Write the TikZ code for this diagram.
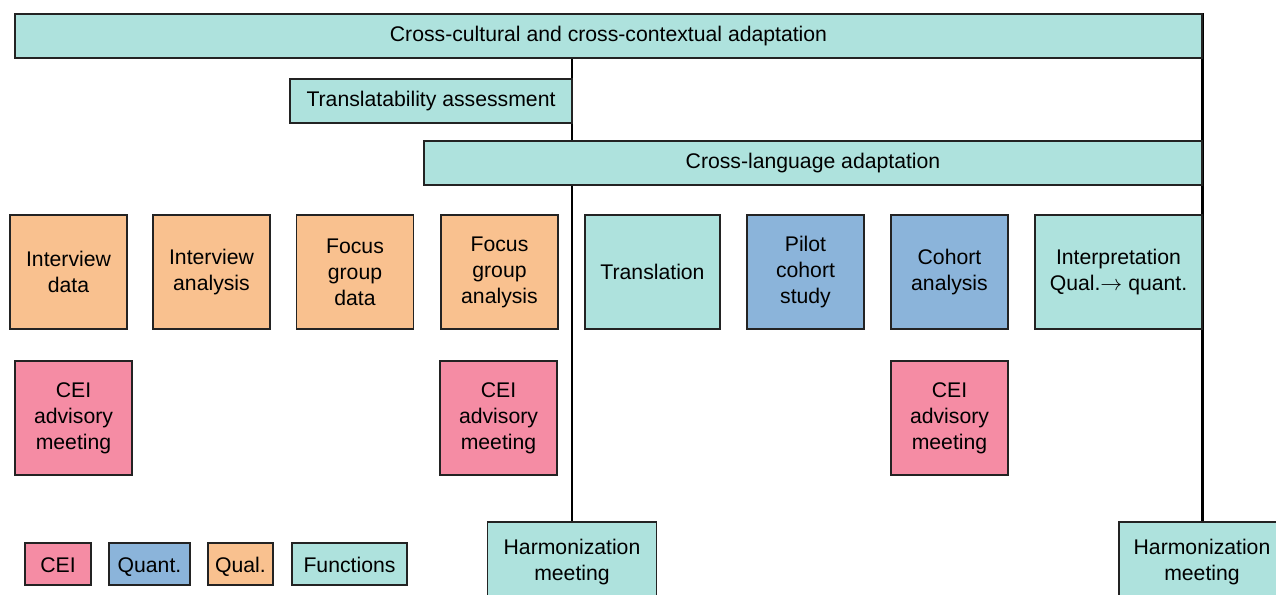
\documentclass[tikz,border=0pt]{standalone}
\usepackage{fontspec}
\setmainfont{Liberation Sans}
\usetikzlibrary{backgrounds}
\definecolor{funcfill}{RGB}{174,226,221}
\definecolor{qualfill}{RGB}{249,193,143}
\definecolor{quantfill}{RGB}{139,180,218}
\definecolor{ceifill}{RGB}{245,140,164}
\definecolor{boxline}{RGB}{35,35,35}
\begin{document}
\begin{tikzpicture}[
    x=0.5pt, y=-0.5pt,
    box/.style={draw=boxline, line width=0.55pt, inner sep=0, align=center,
        font=\fontsize{10.6}{13}\selectfont},
    func/.style={box, fill=funcfill},
    qual/.style={box, fill=qualfill, minimum width=58.5pt, minimum height=57pt},
    quant/.style={box, fill=quantfill, minimum width=58.5pt, minimum height=57pt},
    cei/.style={box, fill=ceifill, minimum width=58.5pt, minimum height=57pt},
    legend/.style={minimum height=21pt, text height=8pt, text depth=0pt},
    link/.style={draw, line width=1.1pt}
    ]
    \useasboundingbox (0,0) rectangle (1276,595);

    % Adaptation bars
    \node[func, minimum width=593.5pt, minimum height=22pt] (cca) at (608.5, 36) {Cross-cultural and cross-contextual adaptation};
    \node[func, minimum width=141pt, minimum height=22pt] (ta) at (431, 101) {Translatability assessment};
    \node[func, minimum width=389pt, minimum height=22pt] (cla) at (813, 163) {Cross-language adaptation};

    % First row
    \node[qual] (idata) at (68.5, 272) {Interview\\data};
    \node[qual] (ianal) at (211.5, 272) {Interview\\analysis};
    \node[qual] (fgdata) at (355, 272) {Focus\\group\\data};
    \node[qual] (fganal) at (499.5, 272) {Focus\\group\\analysis};
    \node[func, minimum width=67.5pt, minimum height=57pt] (transl) at (652.5, 272) {Translation};
    \node[quant] (pilot) at (805.5, 272) {Pilot\\cohort\\study};
    \node[quant] (canal) at (949.5, 272) {Cohort\\analysis};
    \node[func, minimum width=83.5pt, minimum height=57pt] (interp) at (1118.5, 272) {Interpretation\\Qual.$\rightarrow$ quant.};

    % Advisory meetings
    \node[cei] (ceia) at (73.5, 418) {CEI\\advisory\\meeting};
    \node[cei] (ceib) at (498.5, 418) {CEI\\advisory\\meeting};
    \node[cei] (ceic) at (949.5, 418) {CEI\\advisory\\meeting};

    % Harmonization meetings
    \node[func, minimum width=84.5pt, minimum height=40pt] (harma) at (572, 562) {Harmonization\\meeting};
    \node[func, minimum width=83pt, minimum height=40pt] (harmb) at (1202, 562) {Harmonization\\meeting};

    % Legend
    \node[cei, legend, minimum width=33pt] (lcei) at (58, 564) {CEI};
    \node[quant, legend, minimum width=40.5pt] (lquant) at (149.5, 564) {Quant.};
    \node[qual, legend, minimum width=32.5pt] (lqual) at (240.5, 564) {Qual.};
    \node[func, legend, minimum width=57.5pt] (lfunc) at (349.5, 564) {Functions};

    % Timelines
    \begin{scope}[on background layer]
        \draw[link] (cca.south -| harma.north) -- (harma.north);
        \draw[link] (cca.north east) -- (cca.north east |- harmb.north);
    \end{scope}

\end{tikzpicture}
\end{document}
